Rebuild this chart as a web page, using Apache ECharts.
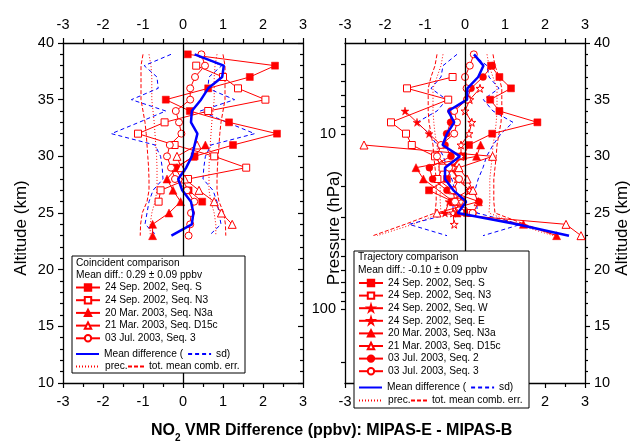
<!DOCTYPE html>
<html><head><meta charset="utf-8">
<script src="https://cdn.jsdelivr.net/npm/echarts@6/dist/echarts.min.js"></script>
<style>html,body{margin:0;padding:0;background:#fff}#c{width:634px;height:443px}</style>
</head><body><div id="c"></div>
<script>
// ---------- tick labels ----------
const xTicks = [-3, -2, -1, 0, 1, 2, 3];
const altTicks = [10, 15, 20, 25, 30, 35, 40];
const pressLabels = [10, 100];
const pressTicks = [3, 4, 5, 6, 7, 8, 9, 10, 20, 30, 40, 50, 60, 70, 80, 90, 100, 200];

// ---------- legend names ----------
const names = {
  S: '24 Sep. 2002, Seq. S', N3: '24 Sep. 2002, Seq. N3', W: '24 Sep. 2002, Seq. W', E: '24 Sep. 2002, Seq. E',
  N3a: '20 Mar. 2003, Seq. N3a', D15c: '21 Mar. 2003, Seq. D15c', Q2: '03 Jul. 2003, Seq. 2', Q3: '03 Jul. 2003, Seq. 3',
  mean: 'Mean difference (', sd: 'sd)', prec: 'prec.', err: 'tot. mean comb. err.'
};

// ---------- left panel (coincident), altitude km / value ppbv ----------
const L_S_alt = [39, 38, 37, 36, 35, 34, 33, 32, 31, 30, 29, 27, 26];
const L_S_val = [0.12, 2.3, 1.67, 0.63, -0.43, 0.17, 1.15, 2.35, 1.25, 0.29, -0.2, 0.14, 0.48];
const L_N3_alt = [38, 37, 36, 35, 34, 33, 32, 31, 30, 29, 28, 27, 26];
const L_N3_val = [0.33, 1.0, 1.375, 2.06, 0.63, -0.46, -1.125, -0.21, 0.78, 1.58, 0.125, -0.56, -0.61];
const L_N3a_alt = [31, 30, 29, 28, 27, 26, 25, 24, 23];
const L_N3a_val = [0.56, 0.25, -0.15, -0.4, -0.25, -0.06, -0.35, -0.76, -0.76];
const L_D15c_alt = [31, 30, 29, 28, 27, 26, 25, 24];
const L_D15c_val = [0.35, -0.15, -0.05, 0.04, 0.4, 0.78, 0.96, 1.23];
const L_Q3_alt = [39, 38, 37, 36, 35, 34, 33, 32, 31, 30, 29, 28, 27, 26, 25, 24, 23];
const L_Q3_val = [0.46, 0.55, 0.3, 0.18, 0.18, -0.18, -0.1, -0.04, -0.33, -0.4, -0.3, -0.2, 0.1, 0.28, 0.2, 0.18, 0.14];
const L_alt = [39, 38, 37, 36, 35, 34, 33, 32, 31, 30, 29, 28, 27, 26, 25, 24, 23];
const L_mean = [0.29, 1.02, 0.98, 0.63, 0.45, 0.22, 0.2, 0.36, 0.29, 0.22, 0.08, -0.12, -0.02, 0.2, 0.26, 0.22, -0.29];
const L_sd = [0.3, 0.97, 0.65, 0.62, 1.29, 0.43, 1.1, 1.79, 0.7, 0.56, 0.52, 0.5, 0.75, 0.85, 0.9, 0.95, 0.65];
const L_prec = [0.85, 0.8, 0.78, 0.78, 0.78, 0.75, 0.72, 0.7, 0.68, 0.66, 0.65, 0.65, 0.65, 0.7, 0.78, 0.82, 0.82];
const L_err = [1.0, 1.05, 1.05, 1.05, 1.05, 1.0, 0.95, 0.92, 0.9, 0.88, 0.86, 0.85, 0.85, 0.9, 1.02, 1.06, 1.07];

// ---------- right panel (trajectory) ----------
const R_S_alt = [38, 37, 36, 35, 34, 33, 32, 31, 30, 29, 28, 27, 26, 25];
const R_S_val = [0.65, 0.86, 1.15, 0.63, 0.86, 1.81, 0.68, 0.1, -0.05, -0.33, -0.45, -0.9, -0.3, 0.05];
const R_N3_alt = [37, 36, 35, 33, 32, 31, 30, 29, 28, 27, 26, 25];
const R_N3_val = [-0.31, -1.45, -0.42, -1.85, -1.475, -1.33, -0.75, -0.56, -0.69, -0.32, -0.1, 0.15];
const R_W_alt = [34, 33, 32, 31, 30, 29, 28, 27, 26, 25];
const R_W_val = [-1.5, -1.2, -0.9, -0.6, -0.1, -0.35, -0.15, 0.1, -0.4, -0.5];
const R_E_alt = [36, 35, 34, 33, 32, 31, 30, 29, 28, 27, 26, 25, 24];
const R_E_val = [0.375, 0.12, 0.0, 0.17, 0.1, -0.1, -0.1, -0.3, -0.2, 0.12, -0.1, -0.3, -0.27];
const R_N3a_alt = [31, 30, 29, 28, 26, 25, 24, 23];
const R_N3a_val = [0.39, 0.29, -1.225, -1.04, -0.29, -0.2, 1.46, 2.29];
const R_D15c_alt = [31, 30, 29, 28, 27, 26, 25, 24, 23];
const R_D15c_val = [-2.525, 0.69, -0.15, 0.05, 0.2, 0.33, -0.7, 2.525, 2.9];
const R_Q2_alt = [38, 37, 36, 35, 34, 33, 32, 31, 30, 29, 28, 27, 26, 25];
const R_Q2_val = [0.68, 0.45, 0.15, 0.05, -0.35, -0.36, -0.46, -0.5, -0.35, -0.89, -0.81, -0.45, 0.35, 0.2];
const R_Q3_alt = [39, 38, 37, 36, 35, 34, 33, 32, 31, 30, 29, 28, 27, 26, 25];
const R_Q3_val = [0.22, 0.12, 0.0, 0.04, 0.05, -0.27, -0.2, -0.27, -0.6, -0.7, -0.4, -0.15, -0.3, -0.25, 0.19];
const R_alt = [39, 38, 37, 36, 35, 34, 33, 32, 31, 30, 29, 28, 27, 26, 25, 24, 23];
const R_mean = [0.225, 0.46, 0.33, 0.06, 0.05, -0.42, -0.27, -0.45, -0.56, -0.125, -0.5, -0.5, -0.29, 0.03, -0.18, 1.3, 2.6];
const R_sd = [0.2, 0.55, 0.6, 0.85, 0.46, 0.7, 1.2, 0.9, 0.7, 0.54, 0.45, 0.33, 0.25, 0.3, 0.3, 1.4, 0.45];
const R_prec = [0.55, 0.6, 0.7, 0.8, 0.8, 0.8, 0.78, 0.75, 0.7, 0.68, 0.65, 0.62, 0.62, 0.62, 0.6, 1.3, 2.2];
const R_err = [0.7, 0.75, 0.85, 0.92, 0.92, 0.92, 0.9, 0.85, 0.8, 0.78, 0.75, 0.72, 0.72, 0.72, 0.75, 1.5, 2.3];

// ---------- helpers ----------
const RED = '#ff0000', BLUE = '#0000ff';
const STAR = 'path://M50,0 L61,35 L98,35 L68,57 L79,91 L50,70 L21,91 L32,57 L2,35 L39,35 Z';
const pts = (alts, vals, sgn) => alts.map((a, i) => [(sgn || 1) * vals[i], a]);

function markerSeries(name, alts, vals, panel, symbol, filled, size) {
  return {
    type: 'line', name, data: pts(alts, vals),
    xAxisIndex: panel === 0 ? 0 : 2, yAxisIndex: panel === 0 ? 0 : 3,
    symbol, symbolSize: size || 7, showSymbol: true,
    lineStyle: { color: RED, width: 1 },
    itemStyle: filled ? { color: RED, borderColor: RED, borderWidth: 0.5 } : { color: '#ffffff', borderColor: RED, borderWidth: 1 },
    animation: false, z: 3
  };
}
function envSeries(name, alts, vals, panel, color, dash, sgn, width) {
  return {
    type: 'line', name, data: pts(alts, vals, sgn),
    xAxisIndex: panel === 0 ? 0 : 2, yAxisIndex: panel === 0 ? 0 : 3,
    symbol: 'none', lineStyle: { color, width: width || 1, type: dash },
    itemStyle: { color, opacity: 0 },
    animation: false, z: 2
  };
}
const zeroLine = { silent: true, symbol: 'none', label: { show: false }, lineStyle: { color: '#000', width: 1.3, type: 'solid' }, data: [{ xAxis: 0 }], animation: false };

const series = [];
[0, 1].forEach(p => {
  const A = p === 0 ? L_alt : R_alt;
  const P = p === 0 ? L_prec : R_prec, E = p === 0 ? L_err : R_err, SD = p === 0 ? L_sd : R_sd;
  [-1, 1].forEach(s => {
    series.push(envSeries(names.prec, A, P, p, RED, [1, 2], s));
    series.push(envSeries(names.err, A, E, p, RED, [4, 2], s));
    series.push(envSeries(names.sd, A, SD, p, BLUE, [4, 3], s));
  });
});
series[0].markLine = zeroLine;
series[6].markLine = zeroLine;

series.push(markerSeries(names.S, L_S_alt, L_S_val, 0, 'rect', true, 7));
series.push(markerSeries(names.N3, L_N3_alt, L_N3_val, 0, 'rect', false, 7));
series.push(markerSeries(names.N3a, L_N3a_alt, L_N3a_val, 0, 'triangle', true, 8));
series.push(markerSeries(names.D15c, L_D15c_alt, L_D15c_val, 0, 'triangle', false, 8));
series.push(markerSeries(names.Q3, L_Q3_alt, L_Q3_val, 0, 'circle', false, 7));

series.push(markerSeries(names.S, R_S_alt, R_S_val, 1, 'rect', true, 7));
series.push(markerSeries(names.N3, R_N3_alt, R_N3_val, 1, 'rect', false, 7));
series.push(markerSeries(names.W, R_W_alt, R_W_val, 1, STAR, true, 8));
series.push(markerSeries(names.E, R_E_alt, R_E_val, 1, STAR, false, 8));
series.push(markerSeries(names.N3a, R_N3a_alt, R_N3a_val, 1, 'triangle', true, 8));
series.push(markerSeries(names.D15c, R_D15c_alt, R_D15c_val, 1, 'triangle', false, 8));
series.push(markerSeries(names.Q2, R_Q2_alt, R_Q2_val, 1, 'circle', true, 7));
series.push(markerSeries(names.Q3, R_Q3_alt, R_Q3_val, 1, 'circle', false, 7));

series.push(Object.assign(envSeries(names.mean, L_alt, L_mean, 0, BLUE, 'solid', 1, 2.5), { z: 4 }));
series.push(Object.assign(envSeries(names.mean, R_alt, R_mean, 1, BLUE, 'solid', 1, 2.5), { z: 4 }));

// ---------- axes ----------
const FONT = 'Liberation Sans, Arial, sans-serif';
const lab = { color: '#000', fontSize: 14.5, fontFamily: FONT };
const nameStyle = { color: '#000', fontSize: 17, fontFamily: FONT, padding: [0, 30, 0, 0] };
const axLine = { show: true, onZero: false, lineStyle: { color: '#000', width: 1.3 } };
function xAx(grid, pos) {
  return {
    type: 'value', gridIndex: grid, position: pos, min: xTicks[0], max: xTicks[xTicks.length - 1], interval: 1,
    axisLine: axLine, splitLine: { show: false },
    axisTick: { show: true, inside: false, length: 5, lineStyle: { color: '#000', width: 1.2 } },
    minorTick: { show: true, splitNumber: 2, length: 4, lineStyle: { color: '#000', width: 1.2 } },
    axisLabel: Object.assign({ show: true, margin: 11 }, lab)
  };
}
function altAx(grid, pos, labels, name, nameGap) {
  return {
    type: 'value', gridIndex: grid, position: pos, min: altTicks[0], max: altTicks[altTicks.length - 1], interval: 5,
    axisLine: axLine, splitLine: { show: false },
    axisTick: { show: true, inside: !labels, length: 5, lineStyle: { color: '#000', width: 1.2 } },
    minorTick: { show: true, splitNumber: 5, length: 3, lineStyle: { color: '#000', width: 1.2 } },
    axisLabel: Object.assign({ show: labels, margin: 9 }, lab),
    name: name || '', nameLocation: 'middle', nameGap: nameGap || 0, nameMoveOverlap: false,
    nameTextStyle: nameStyle
  };
}

const option = {
  animation: false,
  backgroundColor: '#fff',
  textStyle: { fontFamily: FONT },
  grid: [
    { left: 63, top: 43, width: 240, height: 340 },
    { left: 345, top: 43, width: 240, height: 340 }
  ],
  xAxis: [xAx(0, 'bottom'), xAx(0, 'top'), xAx(1, 'bottom'), xAx(1, 'top')],
  yAxis: [
    altAx(0, 'left', true, 'Altitude (km)', 33),
    altAx(0, 'right', false),
    {
      type: 'log', logBase: 10, gridIndex: 1, position: 'left', min: 3.03, max: 264, inverse: true,
      axisLine: axLine, splitLine: { show: false },
      axisTick: { show: true, inside: false, length: 4, customValues: pressTicks, lineStyle: { color: '#000', width: 1.2 } },
      axisLabel: Object.assign({ show: true, margin: 9, customValues: pressLabels,
        formatter: v => (pressLabels.indexOf(Math.round(v)) >= 0 ? String(Math.round(v)) : '') }, lab),
      name: 'Pressure (hPa)', nameLocation: 'middle', nameGap: 2, nameMoveOverlap: false,
      nameTextStyle: nameStyle
    },
    altAx(1, 'right', true, 'Altitude (km)', 29)
  ],
  title: {
    left: 146, top: 414,
    text: '{a|NO}{s|2}{a| VMR Difference (ppbv): MIPAS-E - MIPAS-B}',
    textStyle: { rich: {
      a: { fontSize: 16, fontFamily: FONT, color: '#000', lineHeight: 24 },
      s: { fontSize: 10, fontFamily: FONT, color: '#000', lineHeight: 12, verticalAlign: 'bottom' }
    } }
  },
  graphic: [
    { type: 'rect', z: 10, shape: { x: 72, y: 256, width: 173, height: 117 }, style: { fill: '#fff', stroke: '#000', lineWidth: 1 } },
    { type: 'text', z: 11, x: 76, y: 263, style: { text: 'Coincident comparison', fontSize: 10.2, fontFamily: FONT, fill: '#000', verticalAlign: 'middle' } },
    { type: 'text', z: 11, x: 76, y: 275, style: { text: 'Mean diff.: 0.29 ± 0.09 ppbv', fontSize: 10.2, fontFamily: FONT, fill: '#000', verticalAlign: 'middle' } },
    { type: 'rect', z: 10, shape: { x: 354, y: 251, width: 175, height: 157 }, style: { fill: '#fff', stroke: '#000', lineWidth: 1 } },
    { type: 'text', z: 11, x: 358, y: 257.5, style: { text: 'Trajectory comparison', fontSize: 10.2, fontFamily: FONT, fill: '#000', verticalAlign: 'middle' } },
    { type: 'text', z: 11, x: 358, y: 270.5, style: { text: 'Mean diff.: -0.10 ± 0.09 ppbv', fontSize: 10.2, fontFamily: FONT, fill: '#000', verticalAlign: 'middle' } }
  ],
  legend: [],
  series
};

const legTxt = { color: '#000', fontSize: 10.2, fontFamily: FONT };
function leg(data, left, top, orient, w, gap, hideSym) {
  const l = { data, left, top, orient: orient || 'vertical', itemWidth: w || 24, itemHeight: 8, itemGap: gap === undefined ? 2.7 : gap,
    padding: 0, textStyle: legTxt, z: 20, selectedMode: false };
  if (hideSym) l.itemStyle = { opacity: 0 };
  return l;
}
option.legend.push(leg([names.S, names.N3, names.N3a, names.D15c, names.Q3], 75, 282.5));
option.legend.push(leg([names.mean, names.sd], 75, 349, 'horizontal', 23, 4, true));
option.legend.push(leg([names.prec], 75, 361.5, 'vertical', 24, 2.7, true));
option.legend.push(leg([names.err], 127, 361.5, 'vertical', 16, 2.7, true));
option.legend.push(leg([names.S, names.N3, names.W, names.E, names.N3a, names.D15c, names.Q2, names.Q3], 358, 278, 'vertical', 24, 2.6));
option.legend.push(leg([names.mean, names.sd], 358, 382.5, 'horizontal', 23, 4, true));
option.legend.push(leg([names.prec], 358, 395.5, 'vertical', 24, 2.7, true));
option.legend.push(leg([names.err], 410, 395.5, 'vertical', 16, 2.7, true));

const chart = echarts.init(document.getElementById('c'), null, { renderer: 'canvas' });
chart.setOption(option);
</script>
</body></html>
